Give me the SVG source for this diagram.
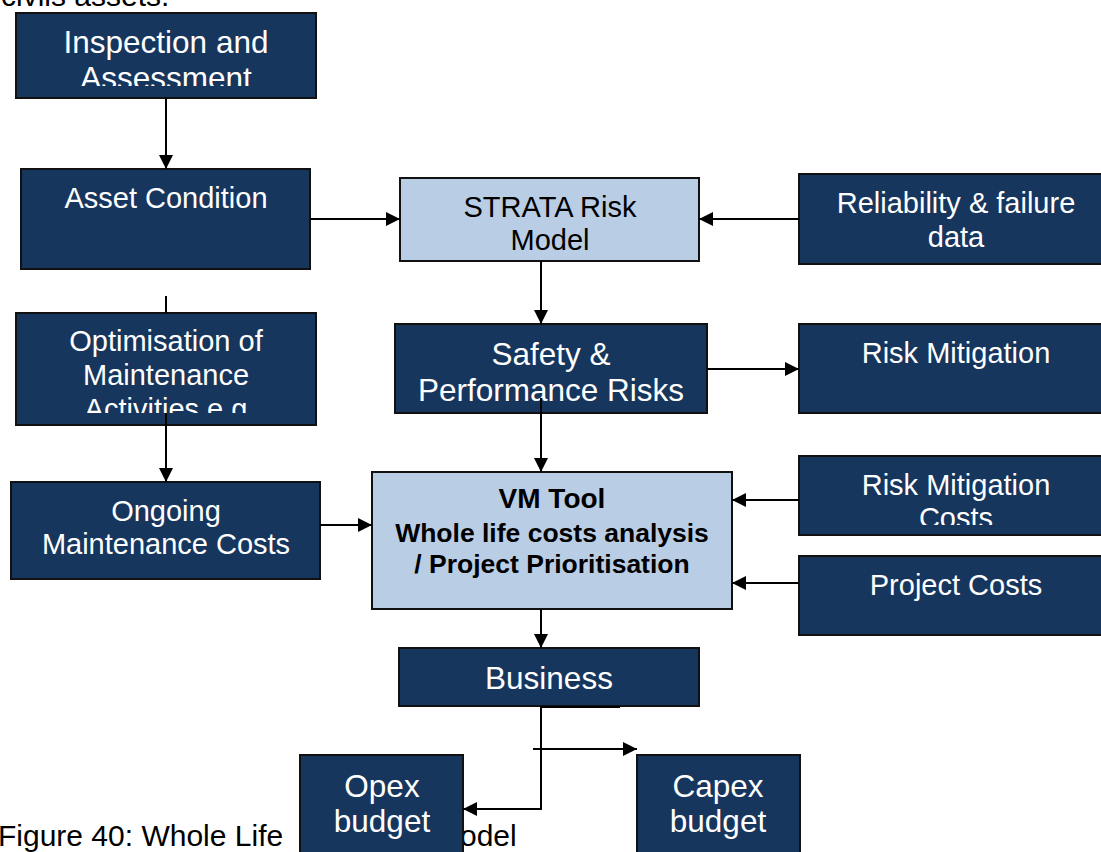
<svg xmlns="http://www.w3.org/2000/svg" width="1101" height="852" viewBox="0 0 1101 852">
<style>
.dark{fill:#17365D;stroke:#111;stroke-width:2}
.light{fill:#B9CDE5;stroke:#111;stroke-width:2}
.wt{fill:#fff;font-family:"Liberation Sans",Arial,sans-serif;font-size:29px;text-anchor:middle}
.wl{font-size:31.5px}
.bt{fill:#000;font-family:"Liberation Sans",Arial,sans-serif;font-size:29px;text-anchor:middle}
.bb{fill:#000;font-family:"Liberation Sans",Arial,sans-serif;font-weight:bold;font-size:26.5px;text-anchor:middle}
.plain{fill:#000;font-family:"Liberation Sans",Arial,sans-serif;font-size:30px}
.ln{fill:none;stroke:#000;stroke-width:2}
.arr{marker-end:url(#ah)}
</style>
<defs>
<marker id="ah" viewBox="0 0 10 10" refX="10" refY="5" markerWidth="15" markerHeight="14" markerUnits="userSpaceOnUse" orient="auto">
<path d="M0,0 L10,5 L0,10 z" fill="#000"/>
</marker>
<clipPath id="c1"><rect x="0" y="0" width="1101" height="86"/></clipPath>
<clipPath id="c2"><rect x="0" y="0" width="1101" height="413"/></clipPath>
<clipPath id="c3"><rect x="0" y="0" width="1101" height="525"/></clipPath>
</defs>
<rect width="1101" height="852" fill="#fff"/>
<text class="plain" x="1" y="6">civils assets.</text>
<text class="plain" x="-2" y="846">Figure 40: Whole Life</text>
<text class="plain" x="460" y="846">odel</text>

<g id="inspection">
<rect class="dark" x="16" y="13" width="300" height="85"/>
<text class="wt wl" x="166" y="53">Inspection and</text>
<text class="wt wl" x="166" y="89" clip-path="url(#c1)">Assessment</text>
</g>
<g id="asset-condition">
<rect class="dark" x="21" y="169" width="289" height="100"/>
<text class="wt" x="166" y="208">Asset Condition</text>
</g>
<g id="optimisation">
<rect class="dark" x="16" y="313" width="300" height="112"/>
<text class="wt" x="166" y="351">Optimisation of</text>
<text class="wt" x="166" y="385">Maintenance</text>
<text class="wt" x="166" y="419" clip-path="url(#c2)">Activities e.g</text>
</g>
<g id="ongoing">
<rect class="dark" x="11" y="482" width="309" height="97"/>
<text class="wt" x="166" y="521">Ongoing</text>
<text class="wt" x="166" y="554">Maintenance Costs</text>
</g>
<g id="strata">
<rect class="light" x="400" y="178" width="299" height="83"/>
<text class="bt" x="550" y="217">STRATA Risk</text>
<text class="bt" x="550" y="250">Model</text>
</g>
<g id="reliability">
<rect class="dark" x="799" y="174" width="314" height="90"/>
<text class="wt" x="956" y="213">Reliability &amp; failure</text>
<text class="wt" x="956" y="247">data</text>
</g>
<g id="safety">
<rect class="dark" x="395" y="324" width="312" height="89"/>
<text class="wt wl" x="551" y="365">Safety &amp;</text>
<text class="wt wl" x="551" y="401">Performance Risks</text>
</g>
<g id="risk-mitigation">
<rect class="dark" x="799" y="324" width="314" height="89"/>
<text class="wt" x="956" y="363">Risk Mitigation</text>
</g>
<g id="vm-tool">
<rect class="light" x="372" y="472" width="360" height="137"/>
<text class="bb" x="552" y="508" style="font-size:28px">VM Tool</text>
<text class="bb" x="552" y="542">Whole life costs analysis</text>
<text class="bb" x="552" y="573">/ Project Prioritisation</text>
</g>
<g id="risk-mitigation-costs">
<rect class="dark" x="799" y="456" width="314" height="79"/>
<text class="wt" x="956" y="495">Risk Mitigation</text>
<text class="wt" x="956" y="528" clip-path="url(#c3)">Costs</text>
</g>
<g id="project-costs">
<rect class="dark" x="799" y="556" width="314" height="79"/>
<text class="wt" x="956" y="595">Project Costs</text>
</g>
<g id="business">
<rect class="dark" x="399" y="648" width="300" height="58"/>
<text class="wt wl" x="549" y="689">Business</text>
</g>
<g id="opex">
<rect class="dark" x="300" y="755" width="163" height="110"/>
<text class="wt wl" x="382" y="797">Opex</text>
<text class="wt wl" x="382" y="832">budget</text>
</g>
<g id="capex">
<rect class="dark" x="637" y="755" width="163" height="110"/>
<text class="wt wl" x="718" y="797">Capex</text>
<text class="wt wl" x="718" y="832">budget</text>
</g>

<g id="connectors">
<line class="ln arr" x1="166" y1="98" x2="166" y2="169"/>
<line class="ln arr" x1="310" y1="219" x2="400" y2="219"/>
<line class="ln arr" x1="799" y1="219" x2="699" y2="219"/>
<line class="ln arr" x1="541" y1="261" x2="541" y2="324"/>
<line class="ln" x1="166" y1="296" x2="166" y2="313"/>
<line class="ln arr" x1="166" y1="413" x2="166" y2="482"/>
<line class="ln arr" x1="707" y1="369" x2="799" y2="369"/>
<line class="ln arr" x1="541" y1="398" x2="541" y2="472"/>
<line class="ln arr" x1="320" y1="525" x2="372" y2="525"/>
<line class="ln arr" x1="799" y1="500" x2="732" y2="500"/>
<line class="ln arr" x1="799" y1="583" x2="732" y2="583"/>
<line class="ln arr" x1="541" y1="609" x2="541" y2="648"/>
<line class="ln" x1="541" y1="707" x2="620" y2="707"/>
<polyline class="ln arr" points="541,706 541,809 463,809"/>
<line class="ln arr" x1="533" y1="749" x2="637" y2="749"/>
</g>
</svg>
